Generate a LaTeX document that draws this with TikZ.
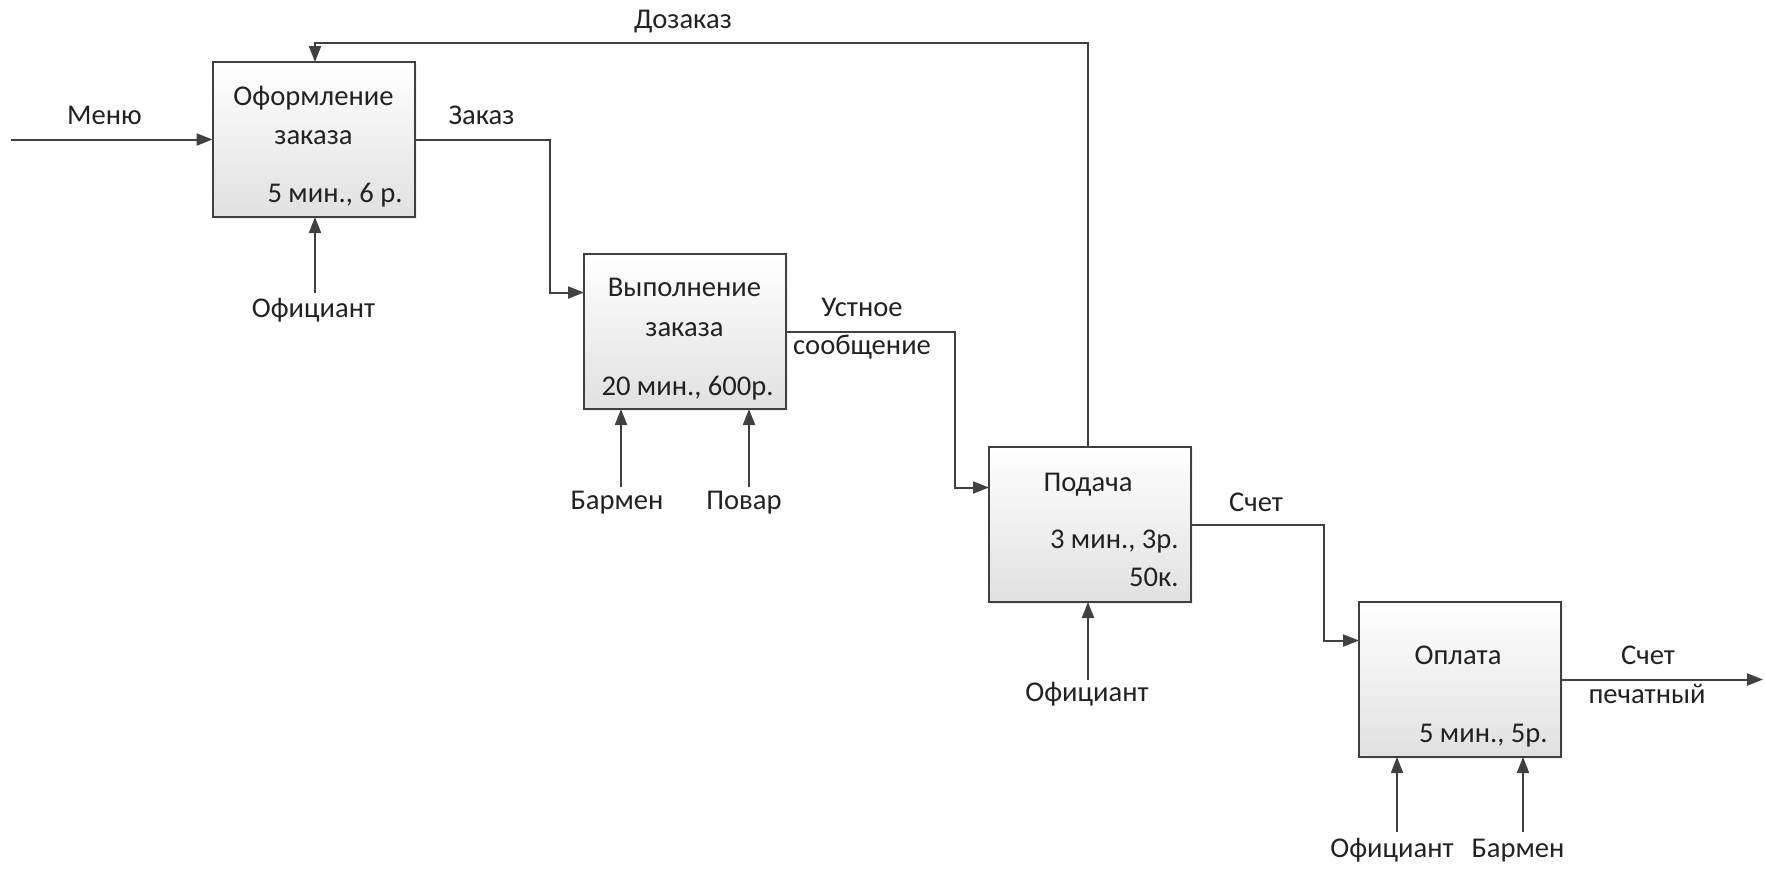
\documentclass[tikz,border=0pt]{standalone}
\usepackage{fontspec}
\setmainfont{Carlito}
\usetikzlibrary{arrows.meta,shadows}
\definecolor{ln}{HTML}{404040}
\definecolor{tx}{HTML}{222222}
\tikzset{
  box/.style={draw=ln, line width=1pt, minimum width=101pt, minimum height=77.5pt,
    inner sep=0pt, outer sep=0pt, top color=white, bottom color=black!12,
    drop shadow={opacity=0.12, shadow xshift=1.2pt, shadow yshift=-1.2pt}},
  arr/.style={draw=ln, line width=1pt, -{Triangle[length=8pt,width=6pt]}},
  lbl/.style={text=tx, font=\fontsize{14.3}{16}\selectfont, inner sep=0pt, anchor=mid},
  rlbl/.style={lbl, anchor=mid east}
}
\begin{document}
\begin{tikzpicture}[x=0.5pt,y=-0.5pt]
\useasboundingbox (0,0) rectangle (1765,869);
% boxes
\node[box] (b1) at (313.5,139.5) {};
\node[box] (b2) at (685,331.5) {};
\node[box] (b3) at (1090,524.5) {};
\node[box] (b4) at (1460,679.5) {};
% box texts
\node[lbl] (t1a) at (313.5,100.7) {Оформление};
\node[lbl] (t1b) at (313.5,140) {заказа};
\node[rlbl] (t1c) at (403,198) {5 мин., 6 р.};
\node[lbl] (t2a) at (684.5,292) {Выполнение};
\node[lbl] (t2b) at (684.5,331.7) {заказа};
\node[rlbl] (t2c) at (774,391) {20 мин., 600р.};
\node[lbl] (t3a) at (1088,487) {Подача};
\node[rlbl] (t3b) at (1179,544) {3 мин., 3р.};
\node[rlbl] (t3c) at (1179,582) {50к.};
\node[lbl] (t4a) at (1458,660) {Оплата};
\node[rlbl] (t4b) at (1548,738) {5 мин., 5р.};
% coordinates
\coordinate (menu) at (11,139.5);
\coordinate (zk) at (550,292.5);
\coordinate (us) at (955,487.5);
\coordinate (sc) at (1324,640.5);
\coordinate (out) at (1763,679.5);
\coordinate (fb1) at (1088,43);
\coordinate (fb2) at (315,43);
\coordinate (o1) at (315,293);
\coordinate (ba1) at (621,487);
\coordinate (pv) at (749,487);
\coordinate (o3) at (1088,680);
\coordinate (o4) at (1397,832);
\coordinate (ba4) at (1523,832);
% connectors
\draw[arr] (menu) -- (b1.west);
\draw[arr] (b1.east) -| (zk) -- (zk -| b2.west);
\draw[arr] (b2.east) -| (us) -- (us -| b3.west);
\draw[arr] (b3.east) -| (sc) -- (sc -| b4.west);
\draw[arr] (b4.east) -- (out);
\draw[arr] (b3.north -| fb1) -- (fb1) -- (fb2) -- (b1.north -| fb2);
\draw[arr] (o1) -- (b1.south -| o1);
\draw[arr] (ba1) -- (b2.south -| ba1);
\draw[arr] (pv) -- (b2.south -| pv);
\draw[arr] (o3) -- (b3.south -| o3);
\draw[arr] (o4) -- (b4.south -| o4);
\draw[arr] (ba4) -- (b4.south -| ba4);
% connector labels
\node[lbl] (l0) at (683,24) {Дозаказ};
\node[lbl] (l1) at (104.5,120) {Меню};
\node[lbl] (l2) at (481.5,120) {Заказ};
\node[lbl] (l3) at (313.5,313) {Официант};
\node[lbl] (l4a) at (862,311.7) {Устное};
\node[lbl] (l4b) at (862,350) {сообщение};
\node[lbl] (l5) at (617,505) {Бармен};
\node[lbl] (l6) at (744,505) {Повар};
\node[lbl] (l7) at (1256,507) {Счет};
\node[lbl] (l8) at (1087,697) {Официант};
\node[lbl] (l9a) at (1648,660) {Счет};
\node[lbl] (l9b) at (1647,699) {печатный};
\node[lbl] (l10) at (1392,853) {Официант};
\node[lbl] (l11) at (1518,853) {Бармен};
\end{tikzpicture}
\end{document}
